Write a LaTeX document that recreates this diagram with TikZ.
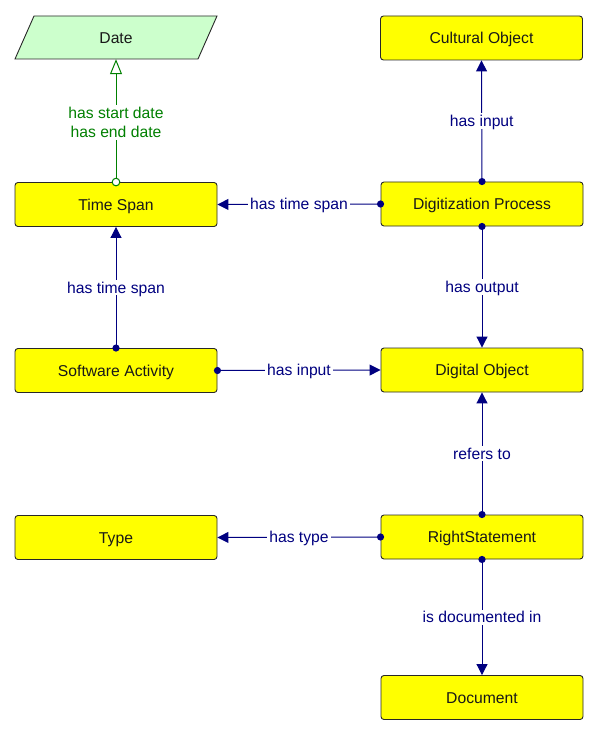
\documentclass[tikz,border=0pt]{standalone}
\usepackage{fontspec}
\setmainfont{Liberation Sans}
\usetikzlibrary{arrows.meta}
\definecolor{navyc}{RGB}{0,0,128}
\definecolor{greenc}{RGB}{0,128,0}
\definecolor{yellowc}{RGB}{255,255,0}
\definecolor{lgreen}{RGB}{204,255,204}
\definecolor{edgec}{RGB}{40,40,40}
\tikzset{
  cls/.style={draw=edgec, fill=yellowc, line width=0.9pt, rounded corners=3pt,
    minimum width=202pt, minimum height=44pt, inner sep=0pt,
    text height=11.3pt, text depth=0pt,
    font=\fontsize{15.7}{18}\selectfont, text=black!90},
  rel/.style={draw=navyc, line width=1pt, -{Triangle[length=11pt,width=11pt]}},
  lbl/.style={fill=white, text=navyc, inner sep=2pt, text height=11.3pt, text depth=0pt,
    font=\fontsize{15.7}{18}\selectfont},
  glbl/.style={fill=white, text=greenc, inner sep=2pt, align=center, yshift=-2pt,
    font=\fontsize{15.7}{19.5}\selectfont},
  dotc/.style={fill=navyc},
}
\begin{document}
\begin{tikzpicture}[x=1pt,y=-1pt]
\useasboundingbox (0,0) rectangle (598,735);
% Date parallelogram
\draw[draw=edgec, fill=lgreen, line width=0.9pt] (34,16) -- (217,16) -- (198,59) -- (15,59) -- cycle;
\node[minimum height=43pt, inner sep=0pt, text height=11.3pt, text depth=0pt,
  font=\fontsize{15.7}{18}\selectfont, text=black!90] (date) at (116,37.5) {Date};

\node[cls] (co) at (481.5,38) {Cultural Object};
\node[cls] (ts) at (116,204.5) {Time Span};
\node[cls] (dp) at (482,204) {Digitization Process};
\node[cls] (sa) at (116,370.5) {Software Activity};
\node[cls] (do) at (482,370) {Digital Object};
\node[cls] (ty) at (116,537.5) {Type};
\node[cls] (rs) at (482,537) {RightStatement};
\node[cls] (doc) at (482,697.5) {Document};

% Time Span -> Date (green)
\draw[draw=greenc, line width=1pt, -{Triangle[open,length=15pt,width=12pt]}] (ts.north) -- node[glbl] {has start date\\has end date} (date.south);
\draw[draw=greenc, line width=1pt, fill=white] (ts.north) circle (3.8pt);

% blue relations
\draw[rel] (dp.north) -- node[lbl] {has input} (co.south);
\fill[dotc] (dp.north) circle (3.6pt);

\draw[rel] (dp.west) -- node[lbl] {has time span} (ts.east);
\fill[dotc] (dp.west) circle (3.6pt);

\draw[rel] (dp.south) -- node[lbl] {has output} (do.north);
\fill[dotc] (dp.south) circle (3.6pt);

\draw[rel] (sa.north) -- node[lbl] {has time span} (ts.south);
\fill[dotc] (sa.north) circle (3.6pt);

\draw[rel] (sa.east) -- node[lbl] {has input} (do.west);
\fill[dotc] (sa.east) circle (3.6pt);

\draw[rel] (rs.north) -- node[lbl] {refers to} (do.south);
\fill[dotc] (rs.north) circle (3.6pt);

\draw[rel] (rs.west) -- node[lbl] {has type} (ty.east);
\fill[dotc] (rs.west) circle (3.6pt);

\draw[rel] (rs.south) -- node[lbl] {is documented in} (doc.north);
\fill[dotc] (rs.south) circle (3.6pt);
\end{tikzpicture}
\end{document}
